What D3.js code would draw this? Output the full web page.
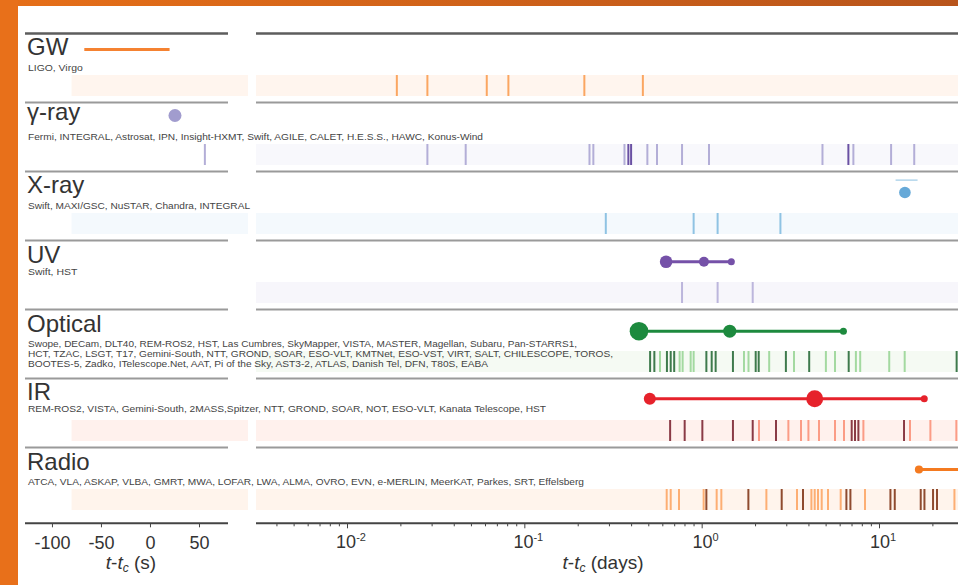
<!DOCTYPE html>
<html>
<head>
<meta charset="utf-8">
<script src="https://cdn.jsdelivr.net/npm/d3@7"></script>
<style>
  body { margin: 0; background: #fff; }
  text { font-family: "Liberation Sans", Arial, Helvetica, sans-serif; }
</style>
</head>
<body>
<svg id="chart" width="958" height="585"></svg>
<script>
// bands and the instruments that observed in each
const bands = ['GW', 'γ-ray', 'X-ray', 'UV', 'Optical', 'IR', 'Radio']
const instruments = [
  ['LIGO, Virgo'],
  ['Fermi, INTEGRAL, Astrosat, IPN, Insight-HXMT, Swift, AGILE, CALET, H.E.S.S., HAWC, Konus-Wind'],
  ['Swift, MAXI/GSC, NuSTAR, Chandra, INTEGRAL'],
  ['Swift, HST'],
  ['Swope, DECam, DLT40, REM-ROS2, HST, Las Cumbres, SkyMapper, VISTA, MASTER, Magellan, Subaru, Pan-STARRS1,',
   'HCT, TZAC, LSGT, T17, Gemini-South, NTT, GROND, SOAR, ESO-VLT, KMTNet, ESO-VST, VIRT, SALT, CHILESCOPE, TOROS,',
   'BOOTES-5, Zadko, ITelescope.Net, AAT, Pi of the Sky, AST3-2, ATLAS, Danish Tel, DFN, T80S, EABA'],
  ['REM-ROS2, VISTA, Gemini-South, 2MASS,Spitzer, NTT, GROND, SOAR, NOT, ESO-VLT, Kanata Telescope, HST'],
  ['ATCA, VLA, ASKAP, VLBA, GMRT, MWA, LOFAR, LWA, ALMA, OVRO, EVN, e-MERLIN, MeerKAT, Parkes, SRT, Effelsberg']
]

// observation times (days after merger), light = follow-up, dark = other
const gwObs = [0.0191, 0.0284, 0.0614, 0.0813, 0.218, 0.466]
const gammaObs = [0.0284, 0.0467, 0.233, 0.245, 0.367, 0.494, 0.560, 0.775, 1.10, 4.80, 7.17, 11.7, 15.8]
const gammaObsDark = [0.386, 0.400, 6.72]
const gammaObsSec = [56]
const xrayObs = [0.288, 0.901, 1.23, 2.78]
const uvObs = [0.775, 1.23, 1.94]
const opticalObs = [0.582, 0.751, 0.781, 0.867, 0.901, 1.732, 1.837, 2.403, 3.317, 5.018, 5.647, 7.408, 7.834, 11.42, 13.96]
const opticalObsDark = [0.512, 0.541, 0.637, 0.669, 0.700, 1.063, 1.139, 1.199, 1.501, 2.017, 2.097, 2.985, 4.040, 6.747, 27.4]
const irObs = [2.105, 3.083, 3.632, 3.999, 4.587, 5.647, 6.348, 8.166, 14.96, 19.49, 27.3]
const irObsDark = [0.664, 0.802, 1.009, 1.501, 1.940, 2.625, 7.015, 7.322, 7.652, 13.84]
const radioObs = [0.635, 0.669, 0.745, 1.026, 1.215, 1.291, 2.317, 3.447, 4.157, 4.339, 4.529, 4.752, 5.157, 6.081, 8.337, 26.63]
const radioObsDark = [1.063, 1.834, 2.827, 3.727, 6.548, 6.899, 11.60, 12.27, 17.19, 18.04, 20.17, 21.24]

// detections
const gwSignal = [-67, 20]          // seconds
const grbDetection = [25.5]         // seconds
const xrayDetection = [14]          // days
const xrayWindow = [12.4, 16.5]
const uvDetections = [0.63, 1.03, 1.47]
const uvWeight = [0.48, 0.26, 0]
const opticalDetections = [0.443, 1.44, 6.3]
const opticalWeight = [1, 0.52, 0]
const irDetections = [0.51, 4.34, 18]
const irWeight = [0.43, 0.86, 0]
const radioDetections = [16.8, 60]

// axis ticks
const secTicks = [-100, -50, 0, 50]
const dayMajor = [0.01, 0.1, 1, 10]
const dayExp = ['-2', '-1', '0', '1']

const svg = d3.select('#chart')
const W = 958, H = 585

// orange frame
const grad = svg.append('defs').append('linearGradient').attr('id', 'topGrad')
grad.append('stop').attr('offset', '0%').attr('stop-color', '#e66f18')
grad.append('stop').attr('offset', '100%').attr('stop-color', '#b8541b')
svg.append('rect').attr('width', W).attr('height', 6).attr('fill', 'url(#topGrad)')
svg.append('rect').attr('width', 18).attr('height', H).attr('fill', '#e8701a')

svg.append('defs').append('clipPath').attr('id', 'rightClip')
  .append('rect').attr('x', 256).attr('y', 0).attr('width', W - 256).attr('height', H)

const y = d3.scaleBand().domain(bands).range([33.5, 516.5])
const xs = d3.scaleLinear().domain([-127.5, 79.6]).range([25, 228])
const xd = d3.scaleLog().domain([0.01, 10]).range([347, 879])
const rScale = d3.scaleLinear().domain([0, 1]).range([3.5, 9.3])

const stripTop = 41.5, stripH = 21
const stripBg = ['#fff5ee', '#f8f8fc', '#f4f9fd', '#f7f6fb', '#f5faf3', '#fff1ed', '#fff4ec']
const leftBg = [true, false, true, false, false, true, true]
const lightCol = ['#fba661', '#b3aed7', '#8fc3e3', '#bcb6dc', '#a3d9a0', '#fb9c86', '#fdae73']
const darkCol = ['#fba661', '#6a51a3', '#8fc3e3', '#bcb6dc', '#3e7a4c', '#8a3a45', '#8f4b2f']
const listOffset = [37, 37.5, 37, 34.5, 37, 33, 37.5]
const labelOffset = [21.5, 17.5, 21, 22, 22.5, 21, 22]
const listEnd = [[82.7], [483], [250], [77.3], [577, 613, 488], [546], [584]]

// separators
bands.forEach((b, i) => {
  const col = i === 0 ? '#5d5d5d' : '#9a9a9a'
  const sw = i === 0 ? 2.5 : 2
  svg.append('line').attr('x1', 25).attr('x2', 228).attr('y1', y(b)).attr('y2', y(b))
    .attr('stroke', col).attr('stroke-width', sw)
  svg.append('line').attr('x1', 256).attr('x2', W).attr('y1', y(b)).attr('y2', y(b))
    .attr('stroke', col).attr('stroke-width', sw)
})

// strips
bands.forEach((b, i) => {
  if (leftBg[i]) {
    svg.append('rect').attr('x', xs(-80)).attr('width', xs(100) - xs(-80))
      .attr('y', y(b) + stripTop).attr('height', stripH).attr('fill', stripBg[i])
  }
  svg.append('rect').attr('x', 256).attr('width', W - 256)
    .attr('y', y(b) + stripTop).attr('height', stripH).attr('fill', stripBg[i])
})

const obsLight = [gwObs, gammaObs, xrayObs, uvObs, opticalObs, irObs, radioObs]
const obsDark = [[], gammaObsDark, [], [], opticalObsDark, irObsDark, radioObsDark]

const rightG = svg.append('g').attr('clip-path', 'url(#rightClip)')
bands.forEach((b, i) => {
  const top = y(b) + stripTop
  rightG.selectAll(null).data(obsLight[i]).join('line')
    .attr('x1', d => xd(d)).attr('x2', d => xd(d))
    .attr('y1', top).attr('y2', top + stripH)
    .attr('stroke', lightCol[i]).attr('stroke-width', 2)
  rightG.selectAll(null).data(obsDark[i]).join('line')
    .attr('x1', d => xd(d)).attr('x2', d => xd(d))
    .attr('y1', top).attr('y2', top + stripH)
    .attr('stroke', darkCol[i]).attr('stroke-width', 2)
})
// gamma obs in seconds panel
svg.selectAll(null).data(gammaObsSec).join('line')
  .attr('x1', d => xs(d)).attr('x2', d => xs(d))
  .attr('y1', y('γ-ray') + stripTop).attr('y2', y('γ-ray') + stripTop + stripH)
  .attr('stroke', '#b3aed7').attr('stroke-width', 2)

// labels
bands.forEach((b, i) => {
  svg.append('text').attr('x', 27).attr('y', y(b) + labelOffset[i])
    .attr('font-size', 24).attr('fill', '#333').text(b)
  instruments[i].forEach((line, j) => {
    svg.append('text').attr('x', 28).attr('y', y(b) + listOffset[i] + j * 10)
      .attr('font-size', 9).attr('fill', '#444')
      .attr('textLength', listEnd[i][j] - 28).attr('lengthAdjust', 'spacingAndGlyphs')
      .text(line)
  })
})

// detections
svg.append('line').attr('x1', xs(gwSignal[0])).attr('x2', xs(gwSignal[1]))
  .attr('y1', y('GW') + 16).attr('y2', y('GW') + 16)
  .attr('stroke', '#f58231').attr('stroke-width', 3)

svg.selectAll(null).data(grbDetection).join('circle')
  .attr('cx', d => xs(d)).attr('cy', y('γ-ray') + 13).attr('r', 6.5).attr('fill', '#a19cce')

rightG.append('line').attr('x1', xd(xrayWindow[0])).attr('x2', xd(xrayWindow[1]))
  .attr('y1', y('X-ray') + 8.6).attr('y2', y('X-ray') + 8.6)
  .attr('stroke', '#9ecae6').attr('stroke-width', 1.2)
rightG.selectAll(null).data(xrayDetection).join('circle')
  .attr('cx', d => xd(d)).attr('cy', y('X-ray') + 21).attr('r', 5.8).attr('fill', '#66a9d8')

function detections (band, times, weights, color, dy) {
  const cy = y(band) + dy
  rightG.append('line').attr('x1', xd(d3.min(times))).attr('x2', xd(d3.max(times)))
    .attr('y1', cy).attr('y2', cy).attr('stroke', color).attr('stroke-width', 3)
  rightG.selectAll(null).data(times).join('circle')
    .attr('cx', d => xd(d)).attr('cy', cy)
    .attr('r', (d, k) => rScale(weights[k])).attr('fill', color)
}
detections('UV', uvDetections, uvWeight, '#7551a8', 21.3)
detections('Optical', opticalDetections, opticalWeight, '#1d8a3e', 21.7)
detections('IR', irDetections, irWeight, '#e6222b', 20.3)
detections('Radio', radioDetections, [0.1, 0.1], '#f47a20', 22)

// axes
const axisY = 523.3
svg.append('line').attr('x1', 25).attr('x2', 228).attr('y1', axisY).attr('y2', axisY)
  .attr('stroke', '#444').attr('stroke-width', 2)
svg.append('line').attr('x1', 256).attr('x2', W).attr('y1', axisY).attr('y2', axisY)
  .attr('stroke', '#444').attr('stroke-width', 2)

const secAxis = svg.append('g').attr('transform', 'translate(0,' + axisY + ')')
  .call(d3.axisBottom(xs).tickValues(secTicks).tickSize(4).tickPadding(9).tickFormat(d => String(d)))
secAxis.select('.domain').remove()
secAxis.selectAll('line').attr('stroke', '#444')
secAxis.selectAll('text').attr('font-size', 18).attr('fill', '#333')
  .style('font-family', '"Liberation Sans", Arial, sans-serif')

const minor = []
for (let e = -3; e <= 1; e++) {
  for (let k = 2; k <= 9; k++) minor.push(k * Math.pow(10, e))
}
const dayAxisMinor = rightG.append('g').attr('transform', 'translate(0,' + axisY + ')')
  .call(d3.axisBottom(xd).tickValues(minor.filter(d => xd(d) > 256)).tickSize(3).tickFormat(''))
dayAxisMinor.select('.domain').remove()
dayAxisMinor.selectAll('line').attr('stroke', '#444')
const dayAxisMajor = rightG.append('g').attr('transform', 'translate(0,' + axisY + ')')
  .call(d3.axisBottom(xd).tickValues(dayMajor).tickSize(5).tickFormat(''))
dayAxisMajor.select('.domain').remove()
dayAxisMajor.selectAll('line').attr('stroke', '#444')

dayMajor.forEach((v, i) => {
  const t = svg.append('text').attr('x', xd(v) + 4).attr('y', axisY + 25)
    .attr('text-anchor', 'middle').attr('font-size', 18).attr('fill', '#333')
  t.append('tspan').text('10')
  t.append('tspan').attr('dy', -7).attr('font-size', 11).text(dayExp[i])
})

function axisTitle (x, unit) {
  const t = svg.append('text').attr('x', x).attr('y', axisY + 46)
    .attr('text-anchor', 'middle').attr('font-size', 19).attr('fill', '#333')
  t.append('tspan').attr('font-style', 'italic').text('t')
  t.append('tspan').text('-')
  t.append('tspan').attr('font-style', 'italic').text('t')
  t.append('tspan').attr('font-style', 'italic').attr('font-size', 12).attr('dy', 3).text('c')
  t.append('tspan').attr('dy', -3).text(' (' + unit + ')')
}
axisTitle(131, 's')
axisTitle(603, 'days')
</script>
</body>
</html>
